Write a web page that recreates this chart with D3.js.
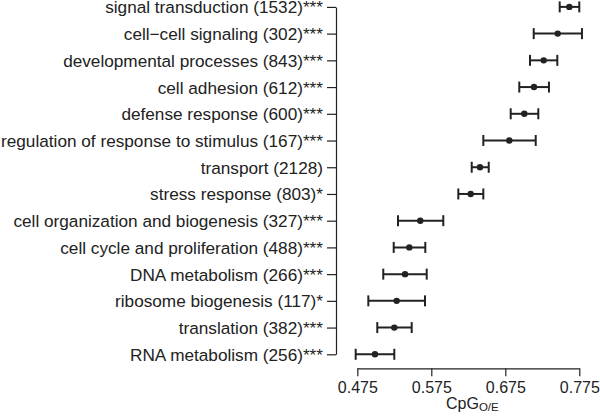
<!DOCTYPE html>
<html>
<head>
<meta charset="utf-8">
<script src="https://cdn.jsdelivr.net/npm/d3@7"></script>
<style>
  html, body { margin: 0; padding: 0; background: #fff; }
  svg { display: block; font-family: "Liberation Sans", Arial, Helvetica, sans-serif; }
</style>
</head>
<body>
<svg id="chart" width="600" height="418"></svg>
<script>
const categories = [
  "signal transduction (1532)***",
  "cell\u2212cell signaling (302)***",
  "developmental processes (843)***",
  "cell adhesion (612)***",
  "defense response (600)***",
  "regulation of response to stimulus (167)***",
  "transport (2128)",
  "stress response (803)*",
  "cell organization and biogenesis (327)***",
  "cell cycle and proliferation (488)***",
  "DNA metabolism (266)***",
  "ribosome biogenesis (117)*",
  "translation (382)***",
  "RNA metabolism (256)***"
];
const means = [0.7615, 0.7458, 0.7269, 0.7138, 0.7007, 0.6804, 0.6408, 0.6282, 0.5601, 0.5453, 0.5395, 0.5282, 0.5250, 0.4989];
const lower = [0.7485, 0.7134, 0.7084, 0.6939, 0.6823, 0.6453, 0.6296, 0.6115, 0.5300, 0.5242, 0.5101, 0.4899, 0.5020, 0.4728];
const upper = [0.7750, 0.7786, 0.7453, 0.7340, 0.7196, 0.7161, 0.6526, 0.6453, 0.5912, 0.5669, 0.5688, 0.5665, 0.5485, 0.5250];
const xTicks = [0.475, 0.575, 0.675, 0.775];

const data = categories.map((c, i) => ({ c, m: means[i], lo: lower[i], hi: upper[i] }));

const svg = d3.select("#chart");
const ink = "#222";

const x = d3.scaleLinear().domain([0.475, 0.775]).range([357.3, 579.3]);
const y = d3.scalePoint().domain(categories).range([6.9, 354.3]);

// Y axis
const yAxisG = svg.append("g")
  .attr("transform", "translate(336,0)")
  .call(d3.axisLeft(y).tickSize(9).tickSizeOuter(0).tickPadding(4));
yAxisG.selectAll("path, line").attr("stroke", ink).attr("stroke-width", 1.2);
yAxisG.selectAll("text").attr("fill", ink).attr("font-size", 17.2).attr("dy", "0.35em")
  .attr("font-family", "'Liberation Sans', Arial, sans-serif");

// X axis
const xAxisG = svg.append("g")
  .attr("transform", "translate(0,368.3)")
  .call(d3.axisBottom(x).tickValues(xTicks).tickFormat(d3.format(".3f"))
    .tickSize(8).tickSizeOuter(0).tickPadding(5.6));
xAxisG.selectAll("path, line").attr("stroke", ink).attr("stroke-width", 1.2);
xAxisG.selectAll("text").attr("fill", ink).attr("font-size", 16)
  .attr("font-family", "'Liberation Sans', Arial, sans-serif");

// X label
const xl = svg.append("text")
  .attr("x", 446).attr("y", 408.5)
  .attr("fill", ink).attr("font-size", 16);
xl.append("tspan").text("CpG");
xl.append("tspan").attr("font-size", 11.5).attr("dy", 2).text("O/E");

// Error bars
const g = svg.append("g");
const capH = 5.5;
const rows = g.selectAll("g.row").data(data).join("g").attr("class", "row");
rows.append("line")
  .attr("x1", d => x(d.lo)).attr("x2", d => x(d.hi))
  .attr("y1", d => y(d.c)).attr("y2", d => y(d.c))
  .attr("stroke", ink).attr("stroke-width", 2);
rows.append("line")
  .attr("x1", d => x(d.lo)).attr("x2", d => x(d.lo))
  .attr("y1", d => y(d.c) - capH).attr("y2", d => y(d.c) + capH)
  .attr("stroke", ink).attr("stroke-width", 2);
rows.append("line")
  .attr("x1", d => x(d.hi)).attr("x2", d => x(d.hi))
  .attr("y1", d => y(d.c) - capH).attr("y2", d => y(d.c) + capH)
  .attr("stroke", ink).attr("stroke-width", 2);
rows.append("circle")
  .attr("cx", d => x(d.m)).attr("cy", d => y(d.c)).attr("r", 3.2)
  .attr("fill", ink);
</script>
</body>
</html>
